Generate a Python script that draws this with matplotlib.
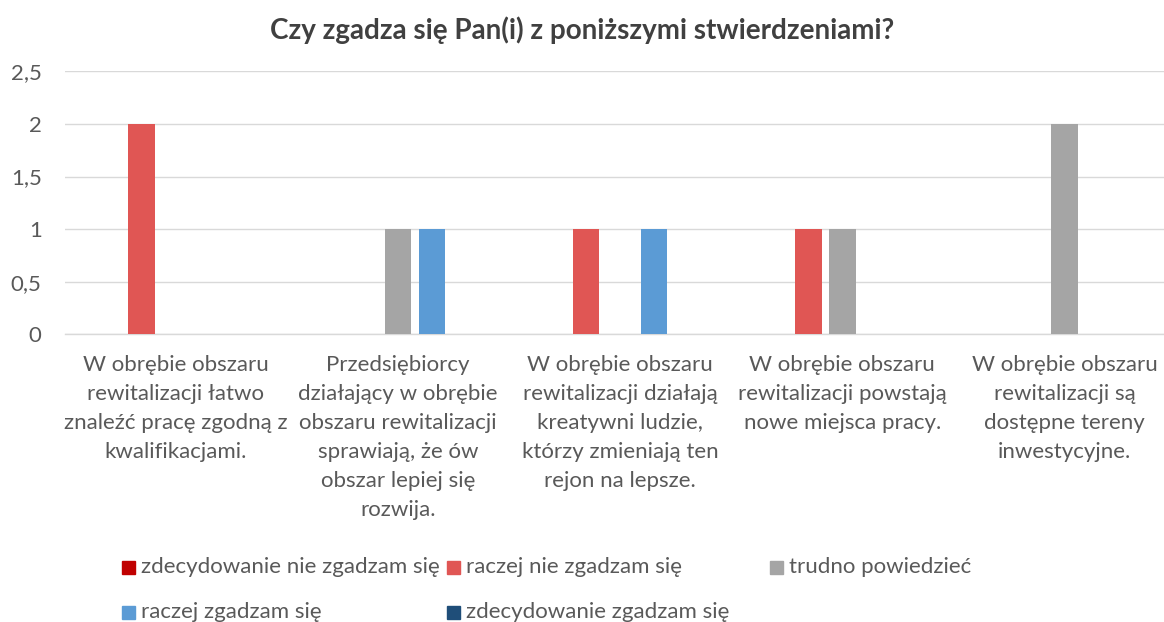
import matplotlib
matplotlib.use("Agg")
import matplotlib.pyplot as plt
import numpy as np
from matplotlib.patches import Rectangle

plt.rcParams['font.family'] = ['Lato', 'DejaVu Sans']

# kategorie (stwierdzenia)
categories = [
    "W obrębie obszaru\nrewitalizacji łatwo\nznaleźć pracę zgodną z\nkwalifikacjami.",
    "Przedsiębiorcy\ndziałający w obrębie\nobszaru rewitalizacji\nsprawiają, że ów\nobszar lepiej się\nrozwija.",
    "W obrębie obszaru\nrewitalizacji działają\nkreatywni ludzie,\nktórzy zmieniają ten\nrejon na lepsze.",
    "W obrębie obszaru\nrewitalizacji powstają\nnowe miejsca pracy.",
    "W obrębie obszaru\nrewitalizacji są\ndostępne tereny\ninwestycyjne.",
]
# serie odpowiedzi
series_names = [
    "zdecydowanie nie zgadzam się",
    "raczej nie zgadzam się",
    "trudno powiedzieć",
    "raczej zgadzam się",
    "zdecydowanie zgadzam się",
]
zdecydowanie_nie = [0, 0, 0, 0, 0]
raczej_nie = [2, 0, 1, 1, 0]
trudno = [0, 1, 0, 1, 2]
raczej_tak = [0, 1, 1, 0, 0]
zdecydowanie_tak = [0, 0, 0, 0, 0]
values = [zdecydowanie_nie, raczej_nie, trudno, raczej_tak, zdecydowanie_tak]
colors = ['#C00000', '#E05654', '#A5A5A5', '#5B9BD5', '#1F4E79']
yticks = [0, 0.5, 1, 1.5, 2, 2.5]
ytick_labels = ['0', '0,5', '1', '1,5', '2', '2,5']

W, H = 1164, 622
fig = plt.figure(figsize=(W / 100, H / 100), dpi=100, facecolor='w')
ax = fig.add_axes([64.6 / W, 1 - 334.3 / H, 1111 / W, 263 / H])

x = np.arange(len(categories))
step, bw = 0.153, 0.12
for i, (vals, col) in enumerate(zip(values, colors)):
    ax.bar(x + (i - 2) * step, vals, width=bw, color=col, zorder=3)

ax.set_xlim(-0.5, len(categories) - 0.5)
ax.set_ylim(0, 2.5)
ax.set_yticks(yticks)
ax.set_yticklabels(ytick_labels)
ax.set_xticks(x)
ax.set_xticklabels(categories, linespacing=1.56)
ax.grid(axis='y', color='#D9D9D9', lw=1, zorder=0)
ax.tick_params(axis='y', length=0, pad=16.5, labelsize=16, labelcolor='#595959')
ax.tick_params(axis='x', length=0, pad=15, labelsize=16, labelcolor='#595959')
for s in ('top', 'right', 'left'):
    ax.spines[s].set_visible(False)
ax.spines['bottom'].set_color('#D9D9D9')
ax.spines['bottom'].set_linewidth(1)

fig.text(582 / W, 1 - 30 / H, 'Czy zgadza się Pan(i) z poniższymi stwierdzeniami?',
         ha='center', va='center', fontsize=20, fontweight='bold', color='#404040')

# legenda w dwóch wierszach, jak w Excelu
leg_pos = [(122, 567), (447, 567), (770, 567), (122, 612), (447, 612)]
for (lx, ly), name, col in zip(leg_pos, series_names, colors):
    fig.patches.append(Rectangle((lx / W, 1 - (ly + 6.5) / H), 13 / W, 13 / H,
                                 transform=fig.transFigure, color=col))
    fig.text((lx + 19) / W, 1 - ly / H, name, ha='left', va='center',
             fontsize=16, color='#595959')

fig.savefig('out.png', dpi=100)
